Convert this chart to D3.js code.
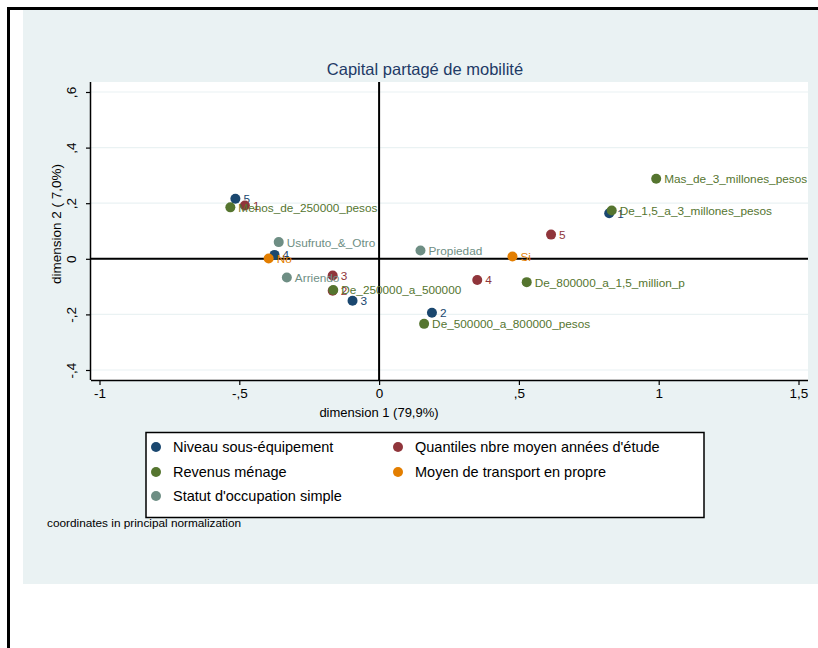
<!DOCTYPE html>
<html><head><meta charset="utf-8">
<script src="https://cdn.jsdelivr.net/npm/d3@7"></script>
<style>body{margin:0;background:#fff}svg{display:block}text{font-family:"Liberation Sans",Arial,sans-serif}</style>
</head><body>
<svg id="c" width="818" height="648"></svg>
<script>
const title = "Capital partagé de mobilité";
const xTitle = "dimension 1 (79,9%)";
const yTitle = "dimension 2 ( 7,0%)";
const note = "coordinates in principal normalization";
const xTicks = [-1, -0.5, 0, 0.5, 1, 1.5];
const xTickLabels = ["-1", "-,5", "0", ",5", "1", "1,5"];
const yTicks = [-0.4, -0.2, 0, 0.2, 0.4, 0.6];
const yTickLabels = ["-,4", "-,2", "0", ",2", ",4", ",6"];
const seriesNames = ["Niveau sous-équipement", "Quantiles nbre moyen années d'étude", "Revenus ménage", "Moyen de transport en propre", "Statut d'occupation simple"];
const seriesColors = ["#1a476f", "#90353b", "#55752f", "#e37e00", "#6e8e84"];
const niveauLabels = ["5", "4", "3", "2", "1"];
const niveauX = [-0.514, -0.374, -0.095, 0.189, 0.823];
const niveauY = [0.216, 0.014, -0.151, -0.194, 0.164];
const quantLabels = ["1", "3", "2", "4", "5"];
const quantX = [-0.480, -0.166, -0.166, 0.351, 0.615];
const quantY = [0.192, -0.060, -0.115, -0.076, 0.087];
const revLabels = ["Menos_de_250000_pesos", "De_250000_a_500000", "De_500000_a_800000_pesos", "De_800000_a_1,5_million_p", "De_1,5_a_3_millones_pesos", "Mas_de_3_millones_pesos"];
const revX = [-0.532, -0.164, 0.161, 0.528, 0.832, 0.991];
const revY = [0.185, -0.112, -0.234, -0.084, 0.174, 0.288];
const moyLabels = ["No", "Si"];
const moyX = [-0.395, 0.477];
const moyY = [0.001, 0.008];
const statLabels = ["Usufruto_&_Otro", "Arriendo", "Propiedad"];
const statX = [-0.359, -0.330, 0.148];
const statY = [0.060, -0.067, 0.030];

const series = [
  {labels: niveauLabels, xs: niveauX, ys: niveauY},
  {labels: quantLabels, xs: quantX, ys: quantY},
  {labels: revLabels, xs: revX, ys: revY},
  {labels: moyLabels, xs: moyX, ys: moyY},
  {labels: statLabels, xs: statX, ys: statY}
].map((s, i) => ({name: seriesNames[i], color: seriesColors[i], pts: s.labels.map((l, j) => ({label: l, x: s.xs[j], y: s.ys[j]}))}));

const svg = d3.select("#c");
// outer frame and graph region
svg.append("rect").attr("x", 23).attr("y", 9).attr("width", 820).attr("height", 575).attr("fill", "#eaf2f3");
svg.append("rect").attr("x", 8.5).attr("y", 8.5).attr("width", 830).attr("height", 700).attr("fill", "none").attr("stroke", "#000").attr("stroke-width", 3);

const pL = 91, pR = 808, pT = 82, pB = 380;
const x = d3.scaleLinear().domain([-1, 1.5]).range([99.5, 798.5]);
const y = d3.scaleLinear().domain([-0.4, 0.6]).range([370, 92]);

svg.append("rect").attr("x", pL).attr("y", pT).attr("width", pR - pL).attr("height", pB - pT).attr("fill", "#fff");
// gridlines
svg.append("g").selectAll("line").data(yTicks).join("line")
  .attr("x1", pL).attr("x2", pR).attr("y1", d => y(d)).attr("y2", d => y(d))
  .attr("stroke", "#eaf2f3").attr("stroke-width", 1.2);
// reference lines
svg.append("line").attr("x1", pL).attr("x2", pR).attr("y1", y(0)).attr("y2", y(0)).attr("stroke", "#000").attr("stroke-width", 2);
svg.append("line").attr("x1", x(0)).attr("x2", x(0)).attr("y1", pT).attr("y2", pB).attr("stroke", "#000").attr("stroke-width", 2);

// axes
const xAxis = d3.axisBottom(x).tickValues(xTicks).tickFormat((d, i) => xTickLabels[i]).tickSize(5).tickPadding(3);
const gx = svg.append("g").attr("transform", `translate(0,${pB})`).call(xAxis);
gx.select(".domain").attr("d", `M${pL},0.5H${pR}`).attr("stroke-width", 1.5);
gx.selectAll(".tick line").attr("stroke-width", 1.2);
gx.selectAll(".tick text").attr("font-size", 13.5).attr("font-family", "Liberation Sans, Arial, sans-serif").attr("fill", "#000");

const yAxis = d3.axisLeft(y).tickValues(yTicks).tickFormat((d, i) => yTickLabels[i]).tickSize(5).tickPadding(3);
const gy = svg.append("g").attr("transform", `translate(${pL},0)`).call(yAxis);
gy.select(".domain").attr("d", `M-0.5,${pT}V${pB}`).attr("stroke-width", 1.5);
gy.selectAll(".tick line").attr("stroke-width", 1.2);
gy.selectAll(".tick text").attr("font-size", 13.5).attr("font-family", "Liberation Sans, Arial, sans-serif").attr("fill", "#000")
  .attr("text-anchor", "middle").attr("dy", null).attr("x", null)
  .attr("transform", "translate(-19,0) rotate(-90)").attr("dominant-baseline", "middle");

// points and labels
series.forEach(s => {
  const g = svg.append("g");
  g.selectAll("circle").data(s.pts).join("circle")
    .attr("cx", d => x(d.x)).attr("cy", d => y(d.y)).attr("r", 5).attr("fill", s.color);
  g.selectAll("text").data(s.pts).join("text")
    .attr("x", d => x(d.x) + 8).attr("y", d => y(d.y) + 4.5)
    .attr("font-size", 11.8).attr("fill", s.color).text(d => d.label);
});

// titles
svg.append("text").attr("x", 425).attr("y", 75).attr("text-anchor", "middle").attr("font-size", 16.5).attr("fill", "#1e3a66").text(title);
svg.append("text").attr("x", 379).attr("y", 417).attr("text-anchor", "middle").attr("font-size", 13).attr("fill", "#000").text(xTitle);
svg.append("text").attr("transform", "translate(61,224) rotate(-90)").attr("text-anchor", "middle").attr("font-size", 13.5).attr("fill", "#000").text(yTitle);

// legend
svg.append("rect").attr("x", 146).attr("y", 432.5).attr("width", 558).attr("height", 85).attr("fill", "#fff").attr("stroke", "#000").attr("stroke-width", 1.5);
const legPos = [[156, 447], [398, 447], [156, 472], [398, 472], [156, 496]];
series.forEach((s, i) => {
  const [lx, ly] = legPos[i];
  svg.append("circle").attr("cx", lx).attr("cy", ly).attr("r", 5).attr("fill", s.color);
  svg.append("text").attr("x", lx + 17).attr("y", ly + 5).attr("font-size", 14.5).attr("fill", "#000").text(s.name);
});
svg.append("text").attr("x", 47).attr("y", 527).attr("font-size", 11.8).attr("fill", "#000").text(note);
</script>
</body></html>
